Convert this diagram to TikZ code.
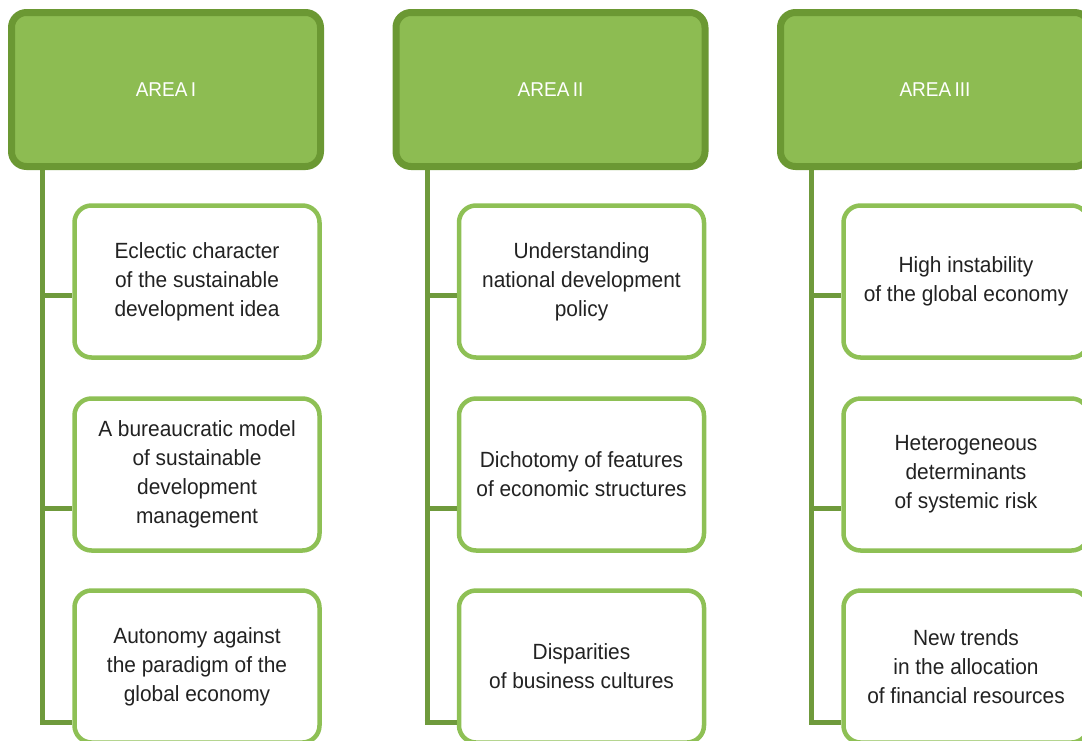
\documentclass[tikz,border=0pt]{standalone}
\usepackage{fontspec}
\setmainfont{Liberation Sans}[FakeStretch=0.95]
\usetikzlibrary{shadows}
\definecolor{hdrfill}{HTML}{8DBC52}
\definecolor{hdrline}{HTML}{6B9833}
\definecolor{boxline}{HTML}{8EC055}
\definecolor{connline}{HTML}{6F9A3C}
\definecolor{txt}{HTML}{222222}
\tikzset{
  header/.style={draw=hdrline, fill=hdrfill, line width=7pt, rounded corners=15pt,
    minimum width=309pt, minimum height=154pt, inner sep=0pt,
    text=white, font=\fontsize{20pt}{26pt}\selectfont,
    drop shadow={opacity=0.25, shadow xshift=0pt, shadow yshift=-3pt}},
  item/.style={draw=boxline, fill=white, line width=4.5pt, rounded corners=17pt,
    minimum width=245pt, minimum height=152pt, inner sep=0pt, align=center,
    text=txt, font=\fontsize{22pt}{29pt}\selectfont},
  conn/.style={draw=connline, line width=5pt}
}
\begin{document}
\begin{tikzpicture}[x=1pt,y=-1pt]
\useasboundingbox (0,0) rectangle (1082,740);
\foreach \c/\name/\ta/\tb/\tc [count=\i] in {
  0/AREA\,I/{Eclectic character\\of the sustainable\\development idea}/{A bureaucratic model\\of sustainable\\development\\management}/{Autonomy against\\the paradigm of the\\global economy},
  384.5/AREA\,II/{Understanding\\national development\\policy}/{Dichotomy of features\\of economic structures}/{Disparities\\of business cultures},
  769/AREA\,III/{High instability\\of the global economy}/{Heterogeneous\\determinants\\of systemic risk}/{New trends\\in the allocation\\of financial resources}}{
  \coordinate (top\i) at (42.5+\c,166);
  \coordinate (k\i a) at (42.5+\c,295);
  \coordinate (k\i b) at (42.5+\c,508);
  \coordinate (k\i c) at (42.5+\c,722);
  \draw[conn] (top\i) -- (k\i c);
  \node[item] (b\i a) at (197+\c,281.5) {\ta};
  \node[item] (b\i b) at (197+\c,474.5) {\tb};
  \node[item] (b\i c) at (197+\c,666.5) {\tc};
  \draw[conn] (k\i a) -- (k\i a -| b\i a.west);
  \draw[conn] (k\i b) -- (k\i b -| b\i b.west);
  \draw[conn] ([xshift=-2.5pt]k\i c) -- (k\i c -| b\i c.west);
  \node[header] (h\i) at (166+\c,89.5) {\name};
}
\end{tikzpicture}
\end{document}
